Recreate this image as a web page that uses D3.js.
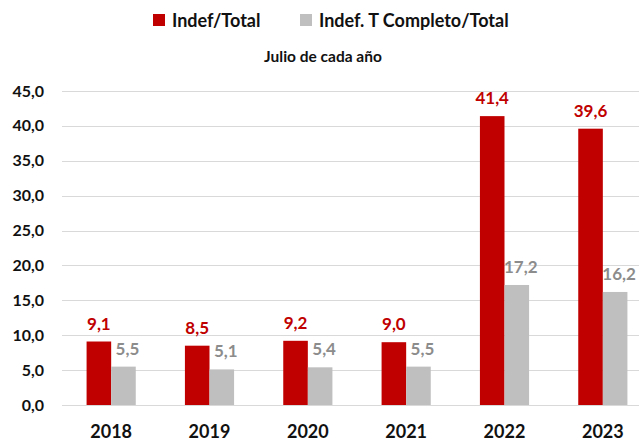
<!DOCTYPE html>
<html>
<head>
<meta charset="utf-8">
<script src="https://cdn.jsdelivr.net/npm/d3@7"></script>
<style>
  body { margin: 0; background: #fff; }
  text { font-family: Lato, "Open Sans", sans-serif; font-weight: bold; }
</style>
</head>
<body>
<svg id="chart" width="639" height="442"></svg>
<script>
var years = ["2018", "2019", "2020", "2021", "2022", "2023"];
var indefTotal = [9.1, 8.5, 9.2, 9.0, 41.4, 39.6];
var indefCompleto = [5.5, 5.1, 5.4, 5.5, 17.2, 16.2];
var seriesNames = ["Indef/Total", "Indef. T Completo/Total"];
var yTicks = [0, 5, 10, 15, 20, 25, 30, 35, 40, 45];

var svg = d3.select("#chart"),
    width = +svg.attr("width"),
    height = +svg.attr("height");

var red = "#c00000", gray = "#bfbfbf", grayText = "#8c8c8c";
var fmt = function(v) { return v.toFixed(1).replace(".", ","); };

var x = d3.scaleBand().domain(years).range([62, 652]);
var y = d3.scaleLinear().domain([0, 45]).range([405, 91]);
var barW = x.bandwidth() * 0.25;

// gridlines
svg.append("g")
  .selectAll("line")
  .data(yTicks)
  .enter().append("line")
    .attr("x1", 62).attr("x2", width)
    .attr("y1", function(d) { return Math.round(y(d)) + 0.5; })
    .attr("y2", function(d) { return Math.round(y(d)) + 0.5; })
    .attr("stroke", "#d9d9d9")
    .attr("stroke-width", 1);

// y labels
svg.append("g")
  .selectAll("text")
  .data(yTicks)
  .enter().append("text")
    .attr("x", 44)
    .attr("y", function(d) { return y(d); })
    .attr("dy", "0.35em")
    .attr("text-anchor", "end")
    .style("font-size", "16px")
    .attr("fill", "#111")
    .text(fmt);

var series = [
  { vals: indefTotal, color: red, off: -barW, lab: red, dx: 0 },
  { vals: indefCompleto, color: gray, off: 0, lab: grayText, dx: 4 }
];

series.forEach(function(s) {
  var g = svg.append("g");
  g.selectAll("rect")
    .data(years)
    .enter().append("rect")
      .attr("x", function(d) { return x(d) + x.bandwidth() / 2 + s.off; })
      .attr("y", function(d, i) { return y(s.vals[i]); })
      .attr("width", barW)
      .attr("height", function(d, i) { return y(0) - y(s.vals[i]); })
      .attr("fill", s.color);
  g.selectAll("text")
    .data(years)
    .enter().append("text")
      .attr("x", function(d) { return x(d) + x.bandwidth() / 2 + s.off + barW / 2 + s.dx; })
      .attr("y", function(d, i) { return y(s.vals[i]) - 12; })
      .attr("text-anchor", "middle")
      .attr("fill", s.lab)
      .style("font-size", "17px")
      .text(function(d, i) { return fmt(s.vals[i]); });
});

// x labels
svg.append("g")
  .selectAll("text")
  .data(years)
  .enter().append("text")
    .attr("x", function(d) { return x(d) + x.bandwidth() / 2; })
    .attr("y", 438)
    .attr("text-anchor", "middle")
    .attr("fill", "#111")
    .style("font-size", "18px")
    .text(function(d) { return d; });

// legend
var legend = [
  { name: seriesNames[0], color: red, x: 153 },
  { name: seriesNames[1], color: gray, x: 300 }
];
legend.forEach(function(l) {
  svg.append("rect")
    .attr("x", l.x).attr("y", 14)
    .attr("width", 12).attr("height", 12)
    .attr("fill", l.color);
  svg.append("text")
    .attr("x", l.x + 19).attr("y", 27)
    .attr("fill", "#111")
    .style("font-size", "18px")
    .text(l.name);
});

svg.append("text")
  .attr("x", 323).attr("y", 62)
  .attr("text-anchor", "middle")
  .attr("fill", "#111")
  .style("font-size", "15.5px")
  .text("Julio de cada año");
</script>
</body>
</html>
